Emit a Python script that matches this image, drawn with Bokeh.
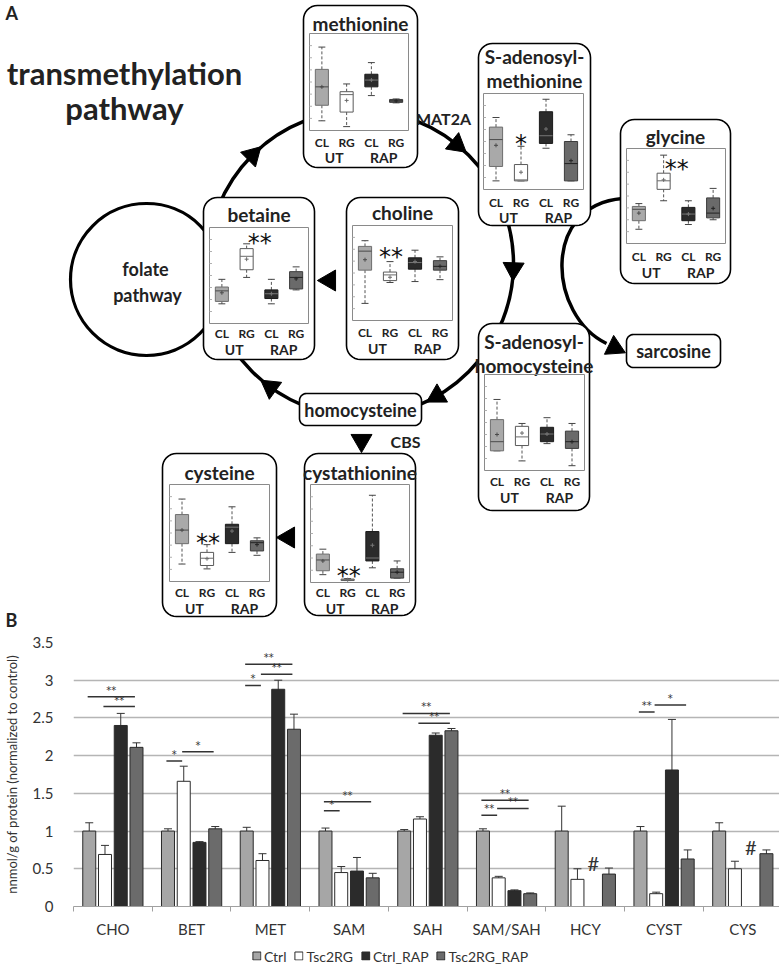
import math
from bokeh.plotting import figure
from bokeh.models import (Range1d, ColumnDataSource, FixedTicker, CustomJSTickFormatter,
                          Whisker, TeeHead, Legend, LegendItem)
from bokeh.layouts import column
from bokeh.core.properties import value
from bokeh.embed import file_html
from bokeh.resources import INLINE

FONT = "Lato"
BFONT = "Lato"
TXT = "#222222"
NaN = float("nan")

# ---------------- Panel B data (nmol/g protein, normalized to control) ----------------
categories = ["CHO", "BET", "MET", "SAM", "SAH", "SAM/SAH", "HCY", "CYST", "CYS"]
series_names = ["Ctrl", "Tsc2RG", "Ctrl_RAP", "Tsc2RG_RAP"]
ctrl = [1.00, 1.00, 1.00, 1.00, 1.00, 1.00, 1.00, 1.00, 1.00]
ctrl_err = [0.11, 0.03, 0.05, 0.04, 0.02, 0.03, 0.33, 0.06, 0.11]
tsc2rg = [0.69, 1.66, 0.61, 0.45, 1.16, 0.38, 0.36, 0.17, 0.50]
tsc2rg_err = [0.12, 0.20, 0.09, 0.08, 0.03, 0.02, 0.14, 0.02, 0.10]
ctrl_rap = [2.40, 0.85, 2.88, 0.47, 2.27, 0.21, NaN, 1.81, NaN]
ctrl_rap_err = [0.16, 0.01, 0.12, 0.18, 0.03, 0.01, NaN, 0.67, NaN]
tsc2rg_rap = [2.11, 1.03, 2.35, 0.38, 2.33, 0.17, 0.43, 0.63, 0.70]
tsc2rg_rap_err = [0.06, 0.03, 0.20, 0.06, 0.03, 0.01, 0.08, 0.12, 0.05]
# significance brackets: (category index, from series, to series, height, label)
brackets = [(0, 0, 3, 2.78, "**"), (0, 1, 3, 2.65, "**"),
            (1, 0, 1, 1.93, "*"), (1, 1, 3, 2.05, "*"),
            (2, 0, 1, 2.93, "*"), (2, 0, 3, 3.21, "**"), (2, 1, 3, 3.08, "**"),
            (3, 0, 1, 1.27, "*"), (3, 0, 3, 1.39, "**"),
            (4, 0, 3, 2.56, "**"), (4, 1, 3, 2.43, "**"),
            (5, 0, 1, 1.21, "**"), (5, 0, 3, 1.41, "**"), (5, 1, 3, 1.30, "**"),
            (7, 0, 1, 2.58, "**"), (7, 1, 3, 2.67, "*")]
# "#" marks (no data) : (category index, series, height)
hash_marks = [(6, 2, 0.58), (8, 2, 0.79)]

# ---------------- Panel A box-plot data (fraction of inset height) ----------------
# each group: (whisker low, Q1, median, Q3, whisker high, mean); groups: CL-UT, RG-UT, CL-RAP, RG-RAP
group_labels = ["CL", "RG", "CL", "RG"]
methionine = [(0.10, 0.26, 0.45, 0.63, 0.86, 0.45), (0.04, 0.19, 0.37, 0.40, 0.48, 0.31),
              (0.36, 0.45, 0.52, 0.58, 0.70, 0.52), (0.285, 0.29, 0.305, 0.32, 0.325, 0.305)]
s_adenosylmethionine = [(0.09, 0.24, 0.52, 0.65, 0.75, 0.46), (0.09, 0.09, 0.10, 0.26, 0.45, 0.18),
                        (0.43, 0.48, 0.56, 0.81, 0.94, 0.63), (0.09, 0.09, 0.27, 0.50, 0.57, 0.30)]
glycine = [(0.15, 0.24, 0.36, 0.39, 0.42, 0.32), (0.45, 0.57, 0.66, 0.74, 0.93, 0.67),
           (0.20, 0.24, 0.31, 0.38, 0.45, 0.31), (0.25, 0.27, 0.32, 0.48, 0.58, 0.37)]
betaine = [(0.205, 0.23, 0.34, 0.38, 0.46, 0.32), (0.48, 0.56, 0.70, 0.78, 0.83, 0.67),
           (0.205, 0.26, 0.31, 0.35, 0.46, 0.31), (0.35, 0.36, 0.48, 0.54, 0.59, 0.465)]
choline = [(0.18, 0.53, 0.73, 0.78, 0.84, 0.64), (0.40, 0.42, 0.48, 0.51, 0.62, 0.455),
           (0.41, 0.54, 0.61, 0.66, 0.74, 0.62), (0.43, 0.53, 0.57, 0.63, 0.67, 0.57)]
s_adenosylhomocysteine = [(0.205, 0.205, 0.30, 0.53, 0.74, 0.375), (0.10, 0.26, 0.35, 0.46, 0.49, 0.39),
                          (0.28, 0.30, 0.38, 0.45, 0.55, 0.38), (0.05, 0.23, 0.30, 0.41, 0.49, 0.30)]
cysteine = [(0.18, 0.39, 0.53, 0.69, 0.85, 0.53), (0.13, 0.165, 0.24, 0.30, 0.38, 0.235),
            (0.30, 0.39, 0.56, 0.59, 0.77, 0.52), (0.27, 0.315, 0.40, 0.42, 0.45, 0.38)]
cystathionine = [(0.08, 0.12, 0.23, 0.29, 0.34, 0.22), (0.02, 0.02, 0.028, 0.035, 0.04, 0.028),
                 (0.15, 0.22, 0.25, 0.52, 0.89, 0.38), (0.045, 0.045, 0.105, 0.14, 0.22, 0.105)]

# ---------------- layout ----------------
W = 779
HA = 634          # rows 0..634   -> panel A
HB = 306          # rows 634..940 -> panel B chart
HC = 31           # rows 940..971 -> legend


def Y(y):
    return HA - y


pA = figure(width=W, height=HA, x_range=Range1d(0, W), y_range=Range1d(0, HA),
            output_backend="svg", toolbar_location=None, x_axis_location=None, y_axis_location=None,
            min_border=0)
pA.grid.visible = False
pA.outline_line_color = None
pA.frame_align = False


def txt(p, x, y, s, size, bold=True, align="center", color=TXT, baseline="middle", font=FONT):
    p.text(x=[x], y=[y], text=[s], text_font=value(font), text_font_size=f"{size}px",
           text_font_style="bold" if bold else "normal", text_align=align,
           text_baseline=baseline, text_color=color)


def rrect(x0, y0, x1, y1, r, n=8):
    pts = []
    for cx, cy, a0, a1 in [(x1 - r, y0 + r, -90, 0), (x1 - r, y1 - r, 0, 90),
                           (x0 + r, y1 - r, 90, 180), (x0 + r, y0 + r, 180, 270)]:
        for k in range(n + 1):
            a = math.radians(a0 + (a1 - a0) * k / n)
            pts.append((cx + r * math.cos(a), cy + r * math.sin(a)))
    return [q[0] for q in pts], [Y(q[1]) for q in pts]


# circles / curves
CX, CY, R = 360, 263, 153
pA.circle(x=[146], y=[Y(279)], radius=76, fill_color=None, line_color="black", line_width=3.2)
pA.circle(x=[CX], y=[Y(CY)], radius=R, fill_color=None, line_color="black", line_width=3.5)
pA.bezier(x0=[622], y0=[Y(198)], x1=[606], y1=[Y(343)], cx0=[540], cy0=[Y(205)],
          cx1=[548], cy1=[Y(315)], line_color="black", line_width=3.5)

INSETS = [
    # frame, title lines, title ys, plot area, label row y, group row y, data, significance
    ((303, 5, 417, 167), ["methionine"], [23], (309, 33, 408, 130), 142, 157, methionine, None),
    ((478, 43, 590, 225), ["S-adenosyl-", "methionine"], [56, 80], (483, 93, 583, 189), 202, 217,
     s_adenosylmethionine, ("*", 0.53, 0)),
    ((620, 119, 730, 283), ["glycine"], [136], (626, 148, 725, 243), 256, 272, glycine, ("**", 0.84, 13)),
    ((203, 197, 314, 359), ["betaine"], [214], (209, 227, 308, 323), 333, 349, betaine, ("**", 0.89, 13)),
    ((346, 197, 458, 359), ["choline"], [212], (352, 225, 452, 320), 332, 348, choline, ("**", 0.72, 1)),
    ((478, 323, 589, 510), ["S-adenosyl-", "homocysteine"], [341, 365], (484, 374, 584, 470), 481, 497,
     s_adenosylhomocysteine, None),
    ((304, 453, 415, 615), ["cystathionine"], [472], (310, 484, 409, 582), 592, 608, cystathionine,
     ("**", 0.12, 1)),
    ((162, 453, 276, 616), ["cysteine"], [472], (169, 484, 269, 581), 592, 608, cysteine, ("**", 0.45, 1)),
]

frames_x, frames_y = [], []
for fr, *_ in INSETS:
    xs, ys = rrect(*fr, 14)
    frames_x.append(xs)
    frames_y.append(ys)
for fr in [(299, 393, 421, 425), (626, 334, 720, 367)]:
    xs, ys = rrect(*fr, 7)
    frames_x.append(xs)
    frames_y.append(ys)
pA.patches(xs=frames_x, ys=frames_y, fill_color="white", line_color="black", line_width=1.6)

FILLS = ["#a9a9a9", "#ffffff", "#2b2b2b", "#6a6a6a"]
LINES = ["#6e6e6e", "#5a5a5a", "#1a1a1a", "#3c3c3c"]
MEDC = ["#4a4a4a", "#6a6a6a", "#777777", "#222222"]

area_l, area_r, area_t, area_b = [], [], [], []
tk = dict(x0=[], y0=[], x1=[], y1=[])
bx = dict(left=[], right=[], top=[], bottom=[], fill=[], line=[])
wh = dict(x0=[], y0=[], x1=[], y1=[])
cp = dict(x0=[], y0=[], x1=[], y1=[])
md = dict(x0=[], y0=[], x1=[], y1=[], c=[])
mn = dict(x=[], y=[], c=[])
labels = dict(x=[], y=[], t=[], s=[])

for fr, titles, tys, area, yl1, yl2, data, sig in INSETS:
    px0, py0, px1, py1 = area
    pw, ph = px1 - px0, py1 - py0
    area_l.append(px0); area_r.append(px1); area_t.append(Y(py0)); area_b.append(Y(py1))
    for k in range(1, 8):
        yy = Y(py1 - ph * k / 8)
        tk["x0"].append(px0); tk["x1"].append(px0 + 2.5); tk["y0"].append(yy); tk["y1"].append(yy)

    def fy(f):
        return Y(py1 - f * ph)

    for g, (lo, q1, me, q3, hi, av) in enumerate(data):
        xc = px0 + (0.125 + 0.25 * g) * pw
        hw = 0.066 * pw
        cw = 0.035 * pw
        bx["left"].append(xc - hw); bx["right"].append(xc + hw)
        bx["top"].append(fy(q3)); bx["bottom"].append(fy(q1))
        bx["fill"].append(FILLS[g]); bx["line"].append(LINES[g])
        for a, b in [(q3, hi), (q1, lo)]:
            wh["x0"].append(xc); wh["x1"].append(xc); wh["y0"].append(fy(a)); wh["y1"].append(fy(b))
            cp["x0"].append(xc - cw); cp["x1"].append(xc + cw); cp["y0"].append(fy(b)); cp["y1"].append(fy(b))
        md["x0"].append(xc - hw); md["x1"].append(xc + hw); md["y0"].append(fy(me)); md["y1"].append(fy(me))
        md["c"].append(MEDC[g])
        mn["x"].append(xc); mn["y"].append(fy(av)); mn["c"].append(MEDC[g])
        labels["x"].append(xc); labels["y"].append(Y(yl1)); labels["t"].append(group_labels[g])
        labels["s"].append("12px")
    for gi, gname in [(0, "UT"), (1, "RAP")]:
        labels["x"].append(px0 + (0.25 + 0.5 * gi) * pw); labels["y"].append(Y(yl2))
        labels["t"].append(gname); labels["s"].append("14px")
    cxm = (fr[0] + fr[2]) / 2
    for t, ty in zip(titles, tys):
        txt(pA, cxm, Y(ty), t, 19)
    if sig is not None:
        s, f, dx = sig
        xc = px0 + 0.375 * pw + dx
        txt(pA, xc, fy(f) - 5, s, 24, bold=False, font="DejaVu Sans", color="#111111")

pA.quad(left=area_l, right=area_r, top=area_t, bottom=area_b, fill_color=None,
        line_color="#8a8a8a", line_width=1)
pA.segment(source=ColumnDataSource(tk), x0="x0", y0="y0", x1="x1", y1="y1", line_color="#b0b0b0", line_width=1)
pA.segment(source=ColumnDataSource(wh), x0="x0", y0="y0", x1="x1", y1="y1", line_color="#555555",
           line_width=1, line_dash="3 2")
pA.segment(source=ColumnDataSource(cp), x0="x0", y0="y0", x1="x1", y1="y1", line_color="#444444",
           line_width=1)
pA.quad(source=ColumnDataSource(bx), left="left", right="right", top="top", bottom="bottom",
        fill_color="fill", line_color="line", line_width=1)
pA.segment(source=ColumnDataSource(md), x0="x0", y0="y0", x1="x1", y1="y1", line_color="c", line_width=1)
pA.scatter(source=ColumnDataSource(mn), x="x", y="y", marker="cross", size=4, line_color="c", line_width=1)
pA.text(source=ColumnDataSource(labels), x="x", y="y", text="t", text_font=value(FONT),
        text_font_size="s", text_font_style="bold", text_align="center", text_baseline="middle",
        text_color=TXT)

# arrow heads
arr = dict(x=[], y=[], a=[], s=[])
for t in [135, 51, -2, -60, -126]:
    tr = math.radians(t)
    arr["x"].append(CX + R * math.cos(tr)); arr["y"].append(Y(CY) + R * math.sin(tr))
    arr["a"].append(math.radians(t - 180)); arr["s"].append(21)
for x, y, ang in [(329, 280, 90), (361, 440, 180), (288, 537, 90), (614, 347, -116)]:
    arr["x"].append(x); arr["y"].append(Y(y)); arr["a"].append(math.radians(ang)); arr["s"].append(21)
pA.scatter(source=ColumnDataSource(arr), x="x", y="y", angle="a", size="s", marker="triangle",
           fill_color="black", line_color="black")

# plain texts
txt(pA, 5, Y(12), "A", 18, align="left")
txt(pA, 5, Y(630), "B", 18, align="left", baseline="bottom")
txt(pA, 124, Y(72), "transmethylation", 31)
txt(pA, 124, Y(107), "pathway", 31)
txt(pA, 145, Y(268), "folate", 18)
txt(pA, 147, Y(294), "pathway", 18)
txt(pA, 360, Y(409), "homocysteine", 18)
txt(pA, 673, Y(350), "sarcosine", 18)
txt(pA, 443, Y(118), "MAT2A", 16)
txt(pA, 405, Y(441), "CBS", 16)

# ---------------- Panel B ----------------
pB = figure(width=W, height=HB, x_range=Range1d(0, 8.966), y_range=Range1d(0, 3.5),
            output_backend="svg", toolbar_location=None, min_border_left=64, min_border_right=0,
            min_border_top=8, min_border_bottom=31)
pB.frame_align = False
pB.outline_line_color = None
pB.xgrid.visible = False
pB.ygrid.grid_line_color = "#b5b5b5"
pB.ygrid.grid_line_width = 1.3

offsets = [-0.30, -0.10, 0.10, 0.30]
bar_w = 0.165
fills = ["#a6a6a6", "#ffffff", "#2b2b2b", "#6b6b6b"]
values = [ctrl, tsc2rg, ctrl_rap, tsc2rg_rap]
errors = [ctrl_err, tsc2rg_err, ctrl_rap_err, tsc2rg_rap_err]
for si in range(4):
    xs, tops, ups, lows = [], [], [], []
    for ci in range(len(categories)):
        v = values[si][ci]
        if v != v:
            continue
        xs.append(ci + 0.5 + offsets[si]); tops.append(v)
        ups.append(v + errors[si][ci]); lows.append(v - errors[si][ci])
    src = ColumnDataSource(dict(x=xs, top=tops, up=ups, low=lows))
    pB.vbar(source=src, x="x", top="top", bottom=0, width=bar_w, fill_color=fills[si],
            line_color="#2a2a2a", line_width=1)
    pB.add_layout(Whisker(source=src, base="x", upper="up", lower="low", line_color="#333333",
                          line_width=1,
                          upper_head=TeeHead(size=8, line_color="#333333", line_width=1),
                          lower_head=TeeHead(size=8, line_color="#333333", line_width=1)))

bk = dict(x0=[], x1=[], y=[], xm=[], t=[])
for ci, a, b, h, lab in brackets:
    x0 = ci + 0.5 + offsets[a] - 0.02
    x1 = ci + 0.5 + offsets[b] - 0.02
    bk["x0"].append(x0); bk["x1"].append(x1); bk["y"].append(h)
    bk["xm"].append((x0 + x1) / 2); bk["t"].append(lab)
bsrc = ColumnDataSource(bk)
pB.segment(source=bsrc, x0="x0", y0="y", x1="x1", y1="y", line_color="#333333", line_width=1.5)
pB.text(source=bsrc, x="xm", y="y", text="t", text_font=value("DejaVu Sans"), text_font_size="10px",
        text_align="center", text_baseline="bottom", text_color="#333333", y_offset=-1)
pB.text(x=[ci + 0.5 + offsets[si] for ci, si, h in hash_marks], y=[h for ci, si, h in hash_marks],
        text=["#" for _ in hash_marks], text_font=value(BFONT), text_font_size="20px",
        text_align="center", text_baseline="middle", text_color="#333333")

pB.yaxis.ticker = FixedTicker(ticks=[0, 0.5, 1, 1.5, 2, 2.5, 3, 3.5])
pB.yaxis.formatter = CustomJSTickFormatter(code="return tick.toString();")
pB.yaxis.axis_line_color = None
pB.yaxis.major_tick_line_color = None
pB.yaxis.minor_tick_line_color = None
pB.yaxis.major_label_standoff = 14
pB.yaxis.major_label_text_font = BFONT
pB.yaxis.major_label_text_font_size = "15px"
pB.yaxis.major_label_text_color = "#333333"
pB.yaxis.axis_label = "nnmol/g of protein (normalized to control)"
pB.yaxis.axis_label_text_font = BFONT
pB.yaxis.axis_label_text_font_size = "13px"
pB.yaxis.axis_label_text_font_style = "normal"
pB.yaxis.axis_label_text_color = "#333333"
pB.yaxis.axis_label_standoff = 10

pB.xaxis.ticker = FixedTicker(ticks=[i + 0.5 for i in range(len(categories))],
                              minor_ticks=list(range(len(categories) + 1)))
pB.xaxis.formatter = CustomJSTickFormatter(args=dict(cats=categories),
                                           code="return cats[Math.floor(tick)];")
pB.xaxis.axis_line_color = "#a0a0a0"
pB.xaxis.major_tick_in = 0
pB.xaxis.major_tick_out = 0
pB.xaxis.minor_tick_in = 0
pB.xaxis.minor_tick_out = 5
pB.xaxis.minor_tick_line_color = "#a0a0a0"
pB.xaxis.major_label_standoff = 8
pB.xaxis.major_label_text_font = BFONT
pB.xaxis.major_label_text_font_size = "15px"
pB.xaxis.major_label_text_color = "#333333"

# ---------------- Legend strip ----------------
pC = figure(width=W, height=HC, x_range=Range1d(0, 1), y_range=Range1d(0, 1),
            output_backend="svg", toolbar_location=None, x_axis_location=None, y_axis_location=None,
            min_border=0)
pC.frame_align = False
pC.grid.visible = False
pC.outline_line_color = None
items = []
for si in range(4):
    r = pC.vbar(x=[-5], top=[-5], bottom=[-6], width=0.1, fill_color=fills[si], line_color="#2a2a2a",
                line_width=1)
    items.append(LegendItem(label=series_names[si], renderers=[r]))
legend = Legend(items=items, orientation="horizontal", location="center",
                glyph_width=10, glyph_height=10, label_text_font=BFONT, label_text_font_size="14px",
                label_text_color="#333333", spacing=7, label_standoff=3, border_line_color=None,
                background_fill_alpha=0, padding=0, margin=0, label_height=16)
pC.add_layout(legend, "center")

layout = column(pA, pB, pC, spacing=0)
open("out.html", "w").write(file_html(layout, INLINE))
